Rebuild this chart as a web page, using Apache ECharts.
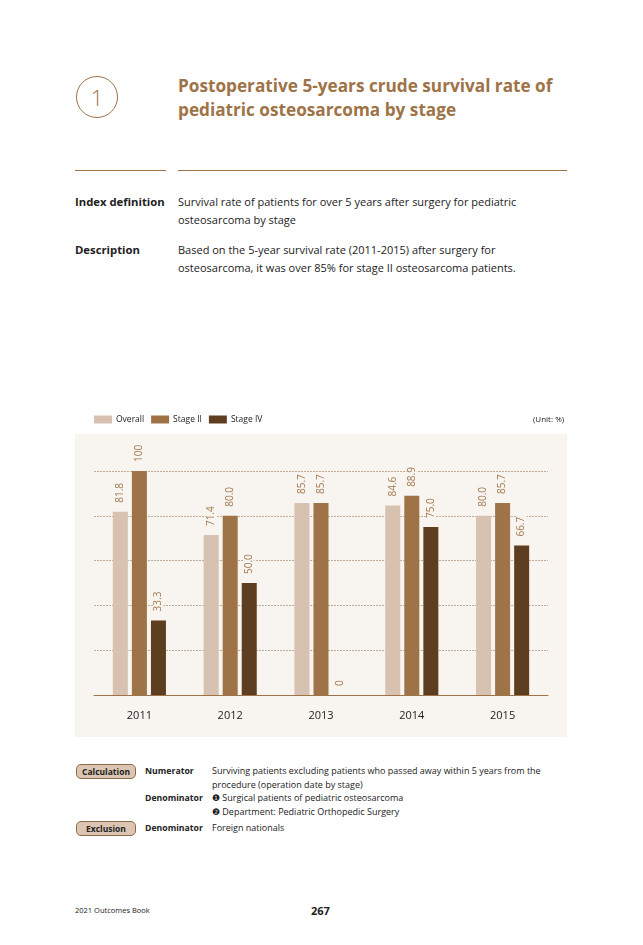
<!DOCTYPE html>
<html>
<head>
<meta charset="utf-8">
<script src="https://cdn.jsdelivr.net/npm/echarts@6/dist/echarts.min.js"></script>
<style>
  html, body { margin:0; padding:0; background:#fff; }
  body { width:643px; height:945px; position:relative; font-family:"Open Sans","Noto Sans",sans-serif; color:#222; overflow:hidden; }
  .abs { position:absolute; white-space:nowrap; }
  .circle { left:76px; top:76px; width:40px; height:40px; border:1px solid #9e7347; border-radius:50%; text-align:center; line-height:40px; font-size:22px; color:#9e7347; font-weight:300; }
  .title { left:178px; top:74px; font-size:17.2px; font-weight:700; color:#9e7347; line-height:24px; }
  .hr { height:1px; background:#9e7347; top:170px; }
  .lab { font-weight:700; font-size:11.3px; }
  .txt { font-size:11px; line-height:18px; }
  .panel { left:75px; top:434px; width:492px; height:303px; background:#f8f4ef; }
  #chart { position:absolute; left:75px; top:405px; width:492px; height:332px; }
  .pill { width:58px; height:13px; border:1px solid #8a6a4d; border-radius:5px; background:#dcc6b2; font-size:8.5px; font-weight:700; text-align:center; line-height:13px; }
  .sm { font-size:9px; line-height:14px; }
  .smb { font-size:8.7px; font-weight:700; }
</style>
</head>
<body>
<div class="abs circle">1</div>
<div class="abs title">Postoperative 5-years crude survival rate of<br>pediatric osteosarcoma by stage</div>
<div class="abs hr" style="left:75px;width:91px;"></div>
<div class="abs hr" style="left:178px;width:389px;"></div>

<div class="abs lab" style="left:75px;top:194px;">Index definition</div>
<div class="abs txt" style="left:178px;top:193px;">Survival rate of patients for over 5 years after surgery for pediatric<br>osteosarcoma by stage</div>
<div class="abs lab" style="left:75px;top:242px;">Description</div>
<div class="abs txt" style="left:178px;top:241px;">Based on the 5-year survival rate (2011-2015) after surgery for<br>osteosarcoma, it was over 85% for stage II osteosarcoma patients.</div>

<div class="abs panel"></div>
<div id="chart"></div>
<div class="abs" style="left:533px;top:413px;font-size:8px;">(Unit: %)</div>

<div class="abs pill" style="left:76px;top:764px;">Calculation</div>
<div class="abs smb" style="left:145px;top:765px;">Numerator</div>
<div class="abs sm" style="left:212px;top:764px;">Surviving patients excluding patients who passed away within 5 years from the<br>procedure (operation date by stage)</div>
<div class="abs smb" style="left:145px;top:792px;">Denominator</div>
<div class="abs sm" style="left:212px;top:791px;">&#10102; Surgical patients of pediatric osteosarcoma<br>&#10103; Department: Pediatric Orthopedic Surgery</div>
<div class="abs pill" style="left:76px;top:821px;">Exclusion</div>
<div class="abs smb" style="left:145px;top:822px;">Denominator</div>
<div class="abs sm" style="left:212px;top:821px;">Foreign nationals</div>

<div class="abs" style="left:75px;top:905px;font-size:7.5px;">2021 Outcomes Book</div>
<div class="abs" style="left:311px;top:903px;font-size:11px;font-weight:700;">267</div>

<script>
const years = ['2011', '2012', '2013', '2014', '2015'];
const seriesNames = ['Overall', 'Stage II', 'Stage IV'];
const overall = [81.8, 71.4, 85.7, 84.6, 80.0];
const stage2 = [100, 80.0, 85.7, 88.9, 85.7];
const stage4 = [33.3, 50.0, 0, 75.0, 66.7];
const colors = ['#d7c2b1', '#9e7347', '#5e3e20'];

const fmt = p => (p.value === 100 || p.value === 0) ? String(p.value) : p.value.toFixed(1);
const mk = (name, data, color) => ({
  name, type: 'bar', data, barWidth: 15, barGap: '27%',
  itemStyle: { color },
  label: { show: true, position: 'top', rotate: 90, align: 'left', verticalAlign: 'middle',
    distance: 8, formatter: fmt, color: '#a37a52', fontSize: 10, fontFamily: 'Open Sans',
    backgroundColor: '#f8f4ef', padding: [0, 1] }
});

const chart = echarts.init(document.getElementById('chart'));
chart.setOption({
  animation: false,
  textStyle: { fontFamily: 'Open Sans' },
  legend: { left: 19, top: 10, padding: 0, itemWidth: 18, itemHeight: 8, itemGap: 7, icon: 'rect',
    textStyle: { fontSize: 8.5, color: '#222', padding: [0, 0, 0, -1] }, data: seriesNames },
  grid: { left: 19, right: 19, top: 66, bottom: 42 },
  xAxis: { type: 'category', data: years,
    axisLine: { lineStyle: { color: '#9e7347', width: 1 } }, axisTick: { show: false },
    axisLabel: { fontSize: 11, color: '#222', margin: 15 } },
  yAxis: { type: 'value', min: 0, max: 100, interval: 20,
    axisLabel: { show: false }, axisLine: { show: false }, axisTick: { show: false },
    splitLine: { lineStyle: { color: '#b39a80', type: [2, 1], width: 0.8 } } },
  series: [mk(seriesNames[0], overall, colors[0]), mk(seriesNames[1], stage2, colors[1]), mk(seriesNames[2], stage4, colors[2])]
});
</script>
</body>
</html>
